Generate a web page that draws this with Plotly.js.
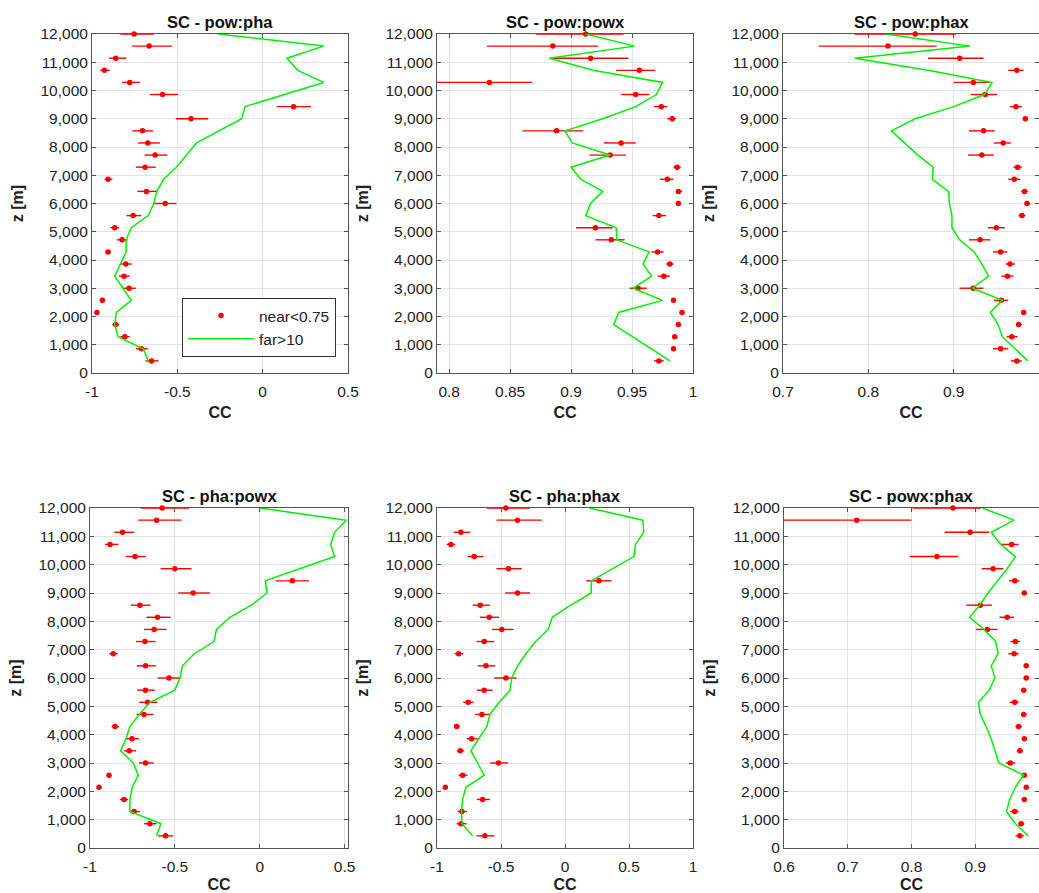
<!DOCTYPE html>
<html>
<head>
<meta charset="utf-8">
<script src="https://cdn.plot.ly/plotly-3.0.1.min.js"></script>
<style>html,body{margin:0;padding:0;background:#fff;}#chart{width:1039px;height:893px;}</style>
</head>
<body>
<div id="chart"></div>
<script>
// Heights [m]
const z = [12000, 11571, 11143, 10714, 10286, 9857, 9429, 9000, 8571, 8143, 7714, 7286, 6857, 6429,
           6000, 5571, 5143, 4714, 4286, 3857, 3429, 3000, 2571, 2143, 1714, 1286, 857, 429];

const panelTitles = ["SC - pow:pha", "SC - pow:powx", "SC - pow:phax", "SC - pha:powx", "SC - pha:phax", "SC - powx:phax"];
const legendNames = ["near<0.75", "far>10"];
const yTicks = [0, 1000, 2000, 3000, 4000, 5000, 6000, 7000, 8000, 9000, 10000, 11000, 12000];

// Panel 1: pow:pha
const near1 = [-0.753,-0.665,-0.861,-0.928,-0.779,-0.587,0.181,-0.420,-0.704,-0.673,-0.630,-0.689,-0.906,-0.681,-0.571,-0.759,-0.867,-0.824,-0.906,-0.802,-0.812,-0.783,-0.939,-0.971,-0.861,-0.808,-0.710,-0.651];
const lo1   = [-0.834,-0.765,-0.900,-0.951,-0.824,-0.661,0.083,-0.509,-0.763,-0.730,-0.691,-0.743,-0.926,-0.734,-0.638,-0.798,-0.892,-0.853,-0.920,-0.834,-0.843,-0.818,-0.945,-0.975,-0.881,-0.834,-0.743,-0.687];
const hi1   = [-0.638,-0.530,-0.798,-0.896,-0.720,-0.495,0.283,-0.319,-0.642,-0.603,-0.559,-0.626,-0.881,-0.618,-0.505,-0.712,-0.841,-0.792,-0.890,-0.767,-0.779,-0.743,-0.932,-0.966,-0.841,-0.779,-0.673,-0.610];
const far1  = [-0.26,0.357,0.142,0.206,0.357,0.12,-0.103,-0.123,-0.256,-0.387,-0.446,-0.505,-0.58,-0.62,-0.638,-0.67,-0.77,-0.80,-0.80,-0.834,-0.867,-0.818,-0.77,-0.857,-0.867,-0.847,-0.70,-0.67];

// Panel 2: pow:powx
const near2 = [0.912,0.885,0.916,0.956,0.833,0.953,0.974,0.983,0.888,0.941,0.932,0.987,0.979,0.988,0.988,0.972,0.920,0.933,0.971,0.981,0.976,0.955,0.984,0.991,0.988,0.985,0.984,0.972];
const lo2   = [0.871,0.831,0.885,0.937,0.790,0.941,0.968,0.979,0.860,0.927,0.915,0.984,0.973,0.986,0.986,0.967,0.904,0.920,0.966,0.978,0.971,0.948,0.982,0.989,0.986,0.984,0.982,0.968];
const hi2   = [0.943,0.922,0.947,0.969,0.868,0.964,0.979,0.986,0.910,0.953,0.945,0.990,0.984,0.991,0.990,0.978,0.934,0.944,0.976,0.984,0.981,0.962,0.986,0.993,0.989,0.987,0.986,0.976];
const far2  = [0.912,0.952,0.882,0.918,0.975,0.970,0.953,0.926,0.895,0.901,0.932,0.900,0.908,0.926,0.916,0.912,0.937,0.9375,0.964,0.959,0.966,0.951,0.975,0.939,0.935,0.951,0.966,0.981];

// Panel 3: pow:phax
const near3 = [0.855,0.823,0.907,0.974,0.923,0.937,0.973,0.984,0.935,0.958,0.933,0.975,0.971,0.983,0.986,0.980,0.950,0.931,0.955,0.966,0.963,0.923,0.956,0.982,0.976,0.968,0.955,0.974];
const lo3   = [0.784,0.742,0.870,0.964,0.900,0.920,0.966,0.982,0.918,0.947,0.917,0.970,0.964,0.979,0.983,0.976,0.940,0.918,0.946,0.961,0.956,0.907,0.947,0.980,0.973,0.962,0.946,0.967];
const hi3   = [0.903,0.880,0.935,0.982,0.942,0.951,0.980,0.987,0.948,0.967,0.947,0.980,0.978,0.987,0.989,0.984,0.960,0.943,0.963,0.972,0.970,0.935,0.964,0.985,0.980,0.975,0.964,0.980];
const far3  = [0.820,0.919,0.784,0.870,0.945,0.936,0.900,0.855,0.827,0.842,0.858,0.876,0.875,0.894,0.895,0.898,0.898,0.907,0.924,0.933,0.941,0.922,0.957,0.943,0.952,0.957,0.972,0.987];

// Panel 4: pha:powx
const near4 = [-0.575,-0.608,-0.808,-0.882,-0.735,-0.500,0.192,-0.392,-0.706,-0.602,-0.622,-0.676,-0.863,-0.673,-0.535,-0.673,-0.661,-0.682,-0.853,-0.753,-0.769,-0.673,-0.888,-0.947,-0.800,-0.741,-0.647,-0.555];
const lo4   = [-0.700,-0.716,-0.857,-0.912,-0.788,-0.584,0.094,-0.480,-0.759,-0.667,-0.682,-0.729,-0.886,-0.725,-0.602,-0.722,-0.710,-0.725,-0.873,-0.790,-0.800,-0.712,-0.900,-0.957,-0.824,-0.769,-0.682,-0.598];
const hi4   = [-0.416,-0.461,-0.741,-0.833,-0.671,-0.402,0.290,-0.294,-0.643,-0.525,-0.549,-0.614,-0.837,-0.612,-0.471,-0.618,-0.604,-0.627,-0.829,-0.712,-0.729,-0.624,-0.876,-0.937,-0.775,-0.706,-0.608,-0.510];
const far4  = [0.0,0.51,0.441,0.418,0.441,0.237,0.033,0.043,-0.049,-0.176,-0.255,-0.269,-0.386,-0.455,-0.47,-0.50,-0.647,-0.71,-0.765,-0.788,-0.82,-0.745,-0.716,-0.751,-0.765,-0.765,-0.582,-0.608];

// Panel 5: pha:phax
const near5 = [-0.462,-0.371,-0.813,-0.891,-0.709,-0.442,0.265,-0.371,-0.662,-0.592,-0.494,-0.631,-0.831,-0.618,-0.462,-0.631,-0.756,-0.649,-0.847,-0.730,-0.818,-0.519,-0.800,-0.935,-0.644,-0.805,-0.813,-0.626];
const lo5   = [-0.610,-0.535,-0.870,-0.925,-0.761,-0.535,0.166,-0.468,-0.722,-0.665,-0.571,-0.691,-0.862,-0.683,-0.553,-0.688,-0.795,-0.701,-0.865,-0.769,-0.844,-0.584,-0.831,-0.945,-0.688,-0.839,-0.847,-0.691];
const hi5   = [-0.273,-0.182,-0.743,-0.857,-0.636,-0.338,0.364,-0.273,-0.587,-0.514,-0.403,-0.553,-0.795,-0.545,-0.379,-0.566,-0.714,-0.592,-0.821,-0.683,-0.787,-0.444,-0.761,-0.925,-0.587,-0.766,-0.769,-0.553];
const far5  = [0.192,0.608,0.616,0.551,0.538,0.374,0.205,0.205,0.044,-0.099,-0.132,-0.229,-0.306,-0.371,-0.416,-0.429,-0.514,-0.587,-0.61,-0.675,-0.735,-0.683,-0.631,-0.774,-0.80,-0.808,-0.805,-0.722];

// Panel 6: powx:phax
const near6 = [0.865,0.714,0.892,0.957,0.840,0.928,0.962,0.977,0.908,0.950,0.919,0.963,0.961,0.980,0.980,0.976,0.962,0.976,0.968,0.977,0.970,0.955,0.977,0.980,0.977,0.962,0.972,0.970];
const lo6   = [0.802,0.600,0.852,0.940,0.797,0.910,0.953,0.973,0.886,0.938,0.901,0.955,0.952,0.976,0.976,0.972,0.954,0.972,0.963,0.973,0.965,0.948,0.974,0.977,0.974,0.955,0.967,0.963];
const hi6   = [0.909,0.800,0.922,0.968,0.873,0.944,0.969,0.981,0.926,0.961,0.935,0.970,0.968,0.983,0.983,0.980,0.968,0.980,0.973,0.981,0.975,0.963,0.981,0.983,0.980,0.968,0.977,0.976];
const far6  = [0.911,0.961,0.925,0.940,0.963,0.950,0.935,0.920,0.907,0.891,0.914,0.932,0.936,0.925,0.931,0.922,0.905,0.908,0.917,0.925,0.931,0.937,0.976,0.963,0.954,0.949,0.963,0.983];

// X tick values / labels
const xt1 = [-1, -0.5, 0, 0.5],           xl1 = ["-1", "-0.5", "0", "0.5"];
const xt2 = [0.8, 0.85, 0.9, 0.95, 1],    xl2 = ["0.8", "0.85", "0.9", "0.95", "1"];
const xt3 = [0.7, 0.8, 0.9, 1],           xl3 = ["0.7", "0.8", "0.9", ""];
const xt4 = [-1, -0.5, 0, 0.5],           xl4 = ["-1", "-0.5", "0", "0.5"];
const xt5 = [-1, -0.5, 0, 0.5, 1],        xl5 = ["-1", "-0.5", "0", "0.5", "1"];
const xt6 = [0.6, 0.7, 0.8, 0.9, 1],      xl6 = ["0.6", "0.7", "0.8", "0.9", ""];

const panels = [
  {near: near1, lo: lo1, hi: hi1, far: far1, xt: xt1, xl: xl1, range: [-1, 0.5]},
  {near: near2, lo: lo2, hi: hi2, far: far2, xt: xt2, xl: xl2, range: [0.79, 1.0]},
  {near: near3, lo: lo3, hi: hi3, far: far3, xt: xt3, xl: xl3, range: [0.7, 1.0]},
  {near: near4, lo: lo4, hi: hi4, far: far4, xt: xt4, xl: xl4, range: [-1, 0.52]},
  {near: near5, lo: lo5, hi: hi5, far: far5, xt: xt5, xl: xl5, range: [-1, 1]},
  {near: near6, lo: lo6, hi: hi6, far: far6, xt: xt6, xl: xl6, range: [0.6, 1.0]}
];

// Layout geometry (pixels)
const W = 1039, H = 893;
const xPix = [[92, 348], [437, 693], [783, 1039], [90, 348], [437, 693], [784, 1039]];
const yPix = [[34, 373], [34, 373], [34, 373], [508, 848], [508, 848], [508, 848]];

const FONT = "Liberation Sans, Arial, Helvetica, sans-serif";
const RED = "#ff0000", GREEN = "#00f000";

const data = [];
const layout = {
  width: W, height: H,
  margin: {l: 0, r: 0, t: 0, b: 0},
  paper_bgcolor: "#fff", plot_bgcolor: "#fff",
  font: {family: FONT, size: 15, color: "#222"},
  showlegend: true,
  legend: {
    x: 336 / W, xanchor: "right", y: 1 - 357 / H, yanchor: "bottom",
    bgcolor: "#fff", bordercolor: "#333", borderwidth: 1,
    font: {family: FONT, size: 15.5, color: "#222"},
    itemwidth: 66, tracegroupgap: 0
  },
  annotations: []
};

panels.forEach((p, i) => {
  const k = i + 1;
  const xa = k === 1 ? "x" : "x" + k;
  const ya = k === 1 ? "y" : "y" + k;
  data.push({
    type: "scatter", mode: "markers", x: p.near, y: z, xaxis: xa, yaxis: ya,
    name: legendNames[0], showlegend: i === 0, legendrank: 1,
    marker: {color: RED, size: 5.5},
    cliponaxis: false,
    error_x: {
      type: "data", symmetric: false,
      array: p.near.map((v, j) => p.hi[j] - v),
      arrayminus: p.near.map((v, j) => v - p.lo[j]),
      color: RED, thickness: 1.4, width: 0
    }
  });
  data.push({
    type: "scatter", mode: "lines", x: p.far, y: z, xaxis: xa, yaxis: ya,
    name: legendNames[1], showlegend: i === 0, legendrank: 2,
    line: {color: GREEN, width: 1.5}
  });
  const axCommon = {
    showline: true, mirror: "ticks", linecolor: "#555", linewidth: 1,
    showgrid: true, gridcolor: "#e3e3e3", gridwidth: 1,
    zeroline: false, ticks: "inside", ticklen: 4, tickcolor: "#555",
    tickfont: {family: FONT, size: 15.5, color: "#222"}
  };
  layout["xaxis" + (k === 1 ? "" : k)] = Object.assign({}, axCommon, {
    domain: [xPix[i][0] / W, xPix[i][1] / W], anchor: ya,
    range: p.range, tickmode: "array", tickvals: p.xt, ticktext: p.xl,
    ticklabelstandoff: 4,
    title: {text: "<b>CC</b>", font: {family: FONT, size: 16, color: "#222"}, standoff: 8}
  });
  layout["yaxis" + (k === 1 ? "" : k)] = Object.assign({}, axCommon, {
    domain: [1 - yPix[i][1] / H, 1 - yPix[i][0] / H], anchor: xa,
    range: [0, 12000], tickmode: "array", tickvals: yTicks,
    ticktext: yTicks.map(v => v.toLocaleString("en-US")),
    title: {text: "<b>z [m]</b>", font: {family: FONT, size: 16, color: "#222"}, standoff: 12}
  });
  layout.annotations.push({
    xref: "paper", yref: "paper",
    x: (xPix[i][0] + xPix[i][1]) / 2 / W, y: 1 - yPix[i][0] / H,
    xanchor: "center", yanchor: "bottom", yshift: 1, showarrow: false,
    text: "<b>" + panelTitles[i] + "</b>",
    font: {family: FONT, size: 16.5, color: "#111"}
  });
});

Plotly.newPlot("chart", data, layout, {displayModeBar: false, staticPlot: true});
</script>
</body>
</html>
